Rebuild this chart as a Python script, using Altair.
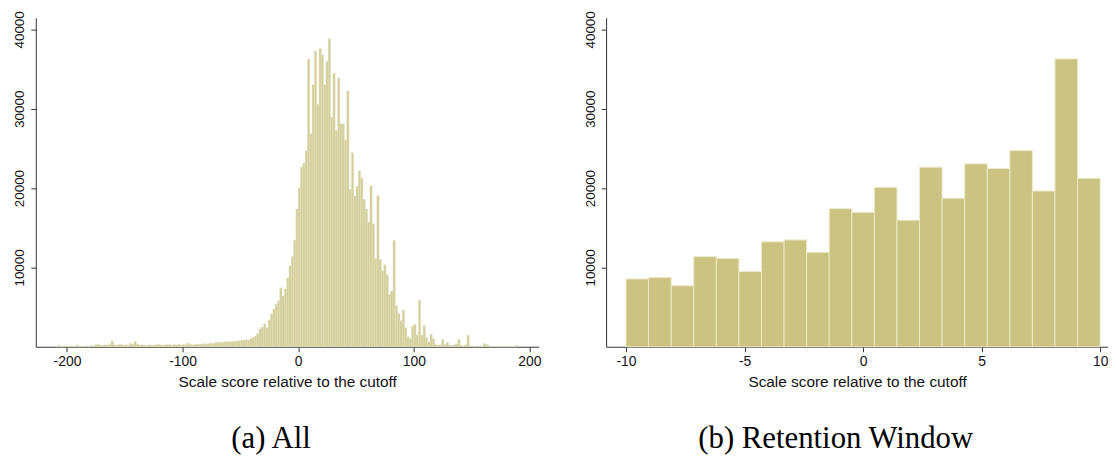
import altair as alt
import pandas as pd

# ---------------- data ----------------
# Panel (a): histogram of all scores, bins of width 2
left_bin_width = 2
tail_left_start = -210
tail_left = [0, 180, 0, 0, 120, 0, 100, 0, 0, 200, 0, 100, 0, 120, 0, 150, 100, 250, 330, 200,
             150, 250, 200, 300, 750, 250, 200, 300, 300, 200, 250, 200, 410, 300, 660, 350, 200, 250, 200, 150,
             250, 200, 200, 250, 300, 250, 200, 250, 300, 250, 200, 300, 250, 300, 200, 300, 250, 450, 300, 250,
             300, 350, 300, 350, 400, 350, 400, 450, 400, 550, 500, 600, 550, 650, 600]
core_start = -60
core = [620, 700, 680, 740, 760, 800, 830, 880, 830, 1000,
        1160, 1320, 1650, 2270, 2480, 2900, 2400, 3390, 4130, 4750,
        5370, 5780, 7430, 6400, 7300, 8680, 10200, 11360, 13420, 17350,
        20030, 22640, 23130, 24700, 36270, 26850, 33040, 37260, 30570, 37590,
        36760, 33040, 35940, 38830, 28920, 34490, 27260, 33870, 28090, 28090,
        26030, 32220, 19820, 24450, 19000, 20240, 22180, 21270, 18590, 17350,
        15700, 20320, 15490, 11150, 19040, 11000, 9580, 10325, 9090, 6600,
        7020, 13420, 5160, 4200, 3300, 4625, 2400, 1260, 1030, 2600,
        2830, 1470, 5890, 1450, 2680, 1160, 620, 1570, 1030, 300,
        200, 250, 910, 300, 540]
tail_right_start = 130
tail_right = [200, 150, 250, 330, 950, 200, 100, 250, 1450, 100,
              80, 0, 100, 0, 80, 410, 290, 150, 0, 50,
              0, 0, 0, 0, 0, 0, 0, 0, 0, 200]

# Panel (b): retention window, 21 bins between -10 and 10
right_lo, right_hi = -10, 10
right_counts = [8550, 8720, 7690, 11360, 11120, 9500, 13220, 13470, 11900, 17400,
                16940, 20080, 15950, 22640, 18720, 23060, 22480, 24710, 19630, 36280, 21240]

x_title = "Scale score relative to the cutoff"
caption_a = "(a) All"
caption_b = "(b) Retention Window"
y_ticks = [10000, 20000, 30000, 40000]
x_ticks_a = [-200, -100, 0, 100, 200]
x_ticks_b = [-10, -5, 0, 5, 10]

# ---------------- tables ----------------
rows = []
for start, seg in [(tail_left_start, tail_left), (core_start, core), (tail_right_start, tail_right)]:
    for i, v in enumerate(seg):
        x0 = start + i * left_bin_width
        rows.append({"x0": x0, "x1": x0 + left_bin_width, "count": v})
df_a = pd.DataFrame(rows)

nb = len(right_counts)
w = (right_hi - right_lo) / nb
df_b = pd.DataFrame({
    "x0": [right_lo + i * w for i in range(nb)],
    "x1": [right_lo + (i + 1) * w for i in range(nb)],
    "count": right_counts,
})

# ---------------- styling ----------------
SANS = "Liberation Sans"
SERIF = "Liberation Serif"
AX = "#333333"
H = 331.7
YMAX = 41470

def y_axis():
    return alt.Axis(values=y_ticks, labelAngle=270, labelAlign="center", labelBaseline="bottom",
                    labelExpr="'' + datum.value",
                    grid=False, title=None, tickSize=5, labelPadding=4,
                    labelFont=SANS, labelFontSize=13.5, labelColor="#111111",
                    domainColor=AX, tickColor=AX, domainWidth=1, tickWidth=1)

def x_axis(vals):
    return alt.Axis(values=vals, labelExpr="'' + datum.value", grid=False,
                    title=x_title, titleFont=SANS, titleFontSize=15.5, titleFontWeight="normal",
                    titleColor="#111111", titlePadding=6,
                    tickSize=5, labelPadding=3, labelFlush=False,
                    labelFont=SANS, labelFontSize=14, labelColor="#111111",
                    domainColor=AX, tickColor=AX, domainWidth=1, tickWidth=1)

left = alt.Chart(df_a).mark_bar(
    color="#D3CE9A", stroke="#E6E3C2", strokeWidth=0.4
).encode(
    x=alt.X("x0:Q", scale=alt.Scale(domain=[-227, 208], nice=False, zero=False), axis=x_axis(x_ticks_a)),
    x2="x1:Q",
    y=alt.Y("count:Q", scale=alt.Scale(domain=[0, YMAX], nice=False), axis=y_axis()),
    y2=alt.datum(0),
).properties(
    width=507, height=H,
    title=alt.TitleParams(caption_a, orient="bottom", frame="bounds", anchor="middle",
                          font=SERIF, fontSize=31, fontWeight="normal", color="#000000",
                          offset=35, dx=-6),
)

right = alt.Chart(df_b).mark_bar(
    color="#CBC382", stroke="#ECE9C8", strokeWidth=1
).encode(
    x=alt.X("x0:Q", scale=alt.Scale(domain=[-10.84, 10.33], nice=False, zero=False), axis=x_axis(x_ticks_b)),
    x2="x1:Q",
    y=alt.Y("count:Q", scale=alt.Scale(domain=[0, YMAX], nice=False), axis=y_axis()),
    y2=alt.datum(0),
).properties(
    width=506, height=H,
    title=alt.TitleParams(caption_b, orient="bottom", frame="bounds", anchor="middle",
                          font=SERIF, fontSize=31, fontWeight="normal", color="#000000",
                          offset=35, dx=-10),
)

chart = alt.hconcat(left, right, spacing=41).properties(
    padding={"left": 4, "top": 0, "right": 0, "bottom": 0},
    background="white",
).configure_view(stroke=None)

chart.save("out.html", embed_options={"renderer": "svg", "actions": False})
